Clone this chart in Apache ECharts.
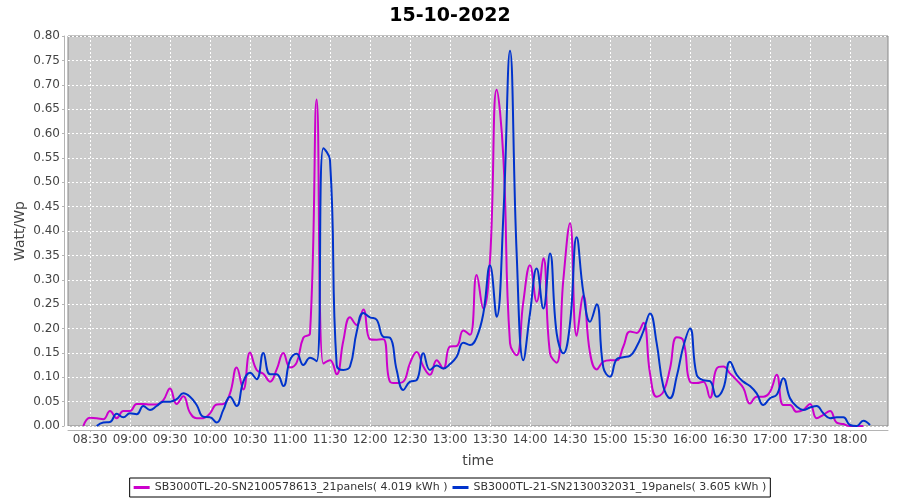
<!DOCTYPE html>
<html>
<head>
<meta charset="utf-8">
<script src="https://cdn.jsdelivr.net/npm/echarts@6/dist/echarts.min.js"></script>
<style>html,body{margin:0;padding:0;background:#fff}#c{width:900px;height:500px}</style>
</head>
<body>
<div id="c"></div>
<script>
const chartTitle = '15-10-2022';
const stepMinutes = 5;
const seriesNames = [
  'SB3000TL-20-SN2100578613_21panels( 4.019 kWh )',
  'SB3000TL-21-SN2130032031_19panels( 3.605 kWh )'
];
const seriesColors = ['#cc00cc', '#0033cc'];
const magentaStart = '08:25';
const blueStart = '08:35';
const magentaValues = [
  0, 0.017, 0.016, 0.014, 0.031, 0.016, 0.031, 0.031, 0.045, 0.045, 0.044, 0.044,
  0.053, 0.077, 0.045, 0.061, 0.027, 0.016, 0.016, 0.026, 0.044, 0.045, 0.067, 0.120,
  0.075, 0.151, 0.115, 0.107, 0.091, 0.116, 0.150, 0.120, 0.130, 0.181, 0.190, 0.670,
  0.128, 0.135, 0.106, 0.175, 0.223, 0.207, 0.239, 0.178, 0.177, 0.178, 0.091, 0.088,
  0.091, 0.129, 0.152, 0.122, 0.105, 0.135, 0.118, 0.163, 0.164, 0.196, 0.187, 0.310,
  0.241, 0.340, 0.690, 0.552, 0.170, 0.145, 0.255, 0.330, 0.255, 0.344, 0.149, 0.130,
  0.300, 0.416, 0.185, 0.267, 0.150, 0.116, 0.132, 0.135, 0.135, 0.163, 0.194, 0.191,
  0.212, 0.108, 0.060, 0.070, 0.118, 0.182, 0.175, 0.091, 0.088, 0.091, 0.058, 0.118,
  0.122, 0.108, 0.094, 0.078, 0.046, 0.060, 0.060, 0.070, 0.105, 0.043, 0.043, 0.029,
  0.033, 0.045, 0.016, 0.023, 0.031, 0.007, 0.004, 0, 0, 0
];
const blueValues = [
  0, 0.007, 0.008, 0.025, 0.018, 0.026, 0.024, 0.041, 0.033, 0.041, 0.050, 0.050,
  0.055, 0.067, 0.060, 0.043, 0.019, 0.018, 0.007, 0.033, 0.060, 0.041, 0.091, 0.109,
  0.096, 0.150, 0.106, 0.106, 0.082, 0.135, 0.148, 0.125, 0.140, 0.133, 0.570, 0.545,
  0.125, 0.115, 0.122, 0.193, 0.232, 0.223, 0.218, 0.183, 0.181, 0.115, 0.074, 0.091,
  0.094, 0.149, 0.115, 0.124, 0.118, 0.127, 0.142, 0.171, 0.166, 0.182, 0.231, 0.330,
  0.224, 0.430, 0.770, 0.354, 0.135, 0.231, 0.323, 0.241, 0.354, 0.190, 0.149, 0.210,
  0.387, 0.274, 0.214, 0.250, 0.120, 0.101, 0.137, 0.141, 0.144, 0.163, 0.194, 0.231,
  0.170, 0.081, 0.057, 0.101, 0.163, 0.200, 0.105, 0.094, 0.092, 0.060, 0.077, 0.132,
  0.105, 0.091, 0.082, 0.067, 0.043, 0.057, 0.064, 0.098, 0.057, 0.040, 0.033, 0.038,
  0.041, 0.026, 0.016, 0.018, 0.018, 0.002, 0, 0.011, 0.002
];
const xTickLabels = ['08:30', '09:00', '09:30', '10:00', '10:30', '11:00', '11:30', '12:00',
  '12:30', '13:00', '13:30', '14:00', '14:30', '15:00', '15:30', '16:00', '16:30', '17:00',
  '17:30', '18:00'];
const xRange = { min: '08:13:30', max: '18:28:30' };
const yTicks = { min: 0, max: 0.8, interval: 0.05 };

function toMin(s) {
  const p = s.split(':').map(Number);
  return p[0] * 60 + p[1] + (p[2] || 0) / 60;
}
function fmt(m) {
  const h = Math.floor(m / 60), mm = Math.round(m - h * 60);
  return String(h).padStart(2, '0') + ':' + String(mm).padStart(2, '0');
}
function toPairs(start, vals) {
  const t0 = toMin(start);
  return vals.map((v, i) => [t0 + i * stepMinutes, v]);
}
const xTickValues = xTickLabels.map(toMin);
const FONT = 'DejaVu Sans';
const gridLine = { color: '#ffffff', type: [2, 2], width: 1 };
const chart = echarts.init(document.getElementById('c'), null, { renderer: 'canvas' });
chart.setOption({
  animation: false,
  backgroundColor: '#ffffff',
  title: {
    text: chartTitle, left: 'center', top: 2,
    textStyle: { fontFamily: FONT, fontSize: 19, fontWeight: 'bold', color: '#000' }
  },
  grid: {
    left: 68, right: 12, top: 36, bottom: 74, show: true,
    backgroundColor: '#cccccc', borderColor: '#888888', borderWidth: 1
  },
  legend: {
    bottom: 3, left: 'center', orient: 'horizontal',
    borderColor: '#000', borderWidth: 1, backgroundColor: '#fff',
    padding: [4, 4], itemGap: 5, itemWidth: 16, itemHeight: 3, icon: 'rect',
    textStyle: { fontFamily: FONT, fontSize: 11, color: '#333' },
    data: seriesNames
  },
  xAxis: {
    type: 'value',
    min: toMin(xRange.min), max: toMin(xRange.max),
    offset: 4,
    name: 'time', nameLocation: 'middle', nameGap: 24, nameMoveOverlap: false,
    nameTextStyle: { fontFamily: FONT, fontSize: 14, color: '#444' },
    axisLine: { show: true, onZero: false, lineStyle: { color: '#b4b4b4', width: 1 } },
    axisTick: { show: true, length: 2, customValues: xTickValues, lineStyle: { color: '#b4b4b4' } },
    axisLabel: {
      customValues: xTickValues,
      formatter: v => fmt(v),
      fontFamily: FONT, fontSize: 12, color: '#444', margin: 4
    },
    splitLine: { show: false }
  },
  yAxis: {
    type: 'value', min: yTicks.min, max: yTicks.max, interval: yTicks.interval,
    offset: 4,
    name: 'Watt/Wp', nameLocation: 'middle', nameGap: 37, nameMoveOverlap: false,
    nameTextStyle: { fontFamily: FONT, fontSize: 14, color: '#444' },
    axisLine: { show: true, lineStyle: { color: '#b4b4b4', width: 1 } },
    axisTick: { show: true, length: 2, lineStyle: { color: '#b4b4b4' } },
    axisLabel: {
      formatter: v => v.toFixed(2),
      fontFamily: FONT, fontSize: 12, color: '#444', margin: 4
    },
    splitLine: { show: true, lineStyle: gridLine }
  },
  series: [
    {
      name: 'grid-x', type: 'line', data: [], z: 1, silent: true,
      markLine: {
        z: 1, silent: true, symbol: ['none', 'none'], label: { show: false },
        lineStyle: gridLine, animation: false,
        emphasis: { disabled: true },
        data: xTickValues.map(v => ({ xAxis: v }))
      }
    },
    {
      name: seriesNames[0], type: 'line', smooth: 0.45, showSymbol: false, z: 3,
      data: toPairs(magentaStart, magentaValues),
      lineStyle: { color: seriesColors[0], width: 2 }, itemStyle: { color: seriesColors[0] }
    },
    {
      name: seriesNames[1], type: 'line', smooth: 0.45, showSymbol: false, z: 3,
      data: toPairs(blueStart, blueValues),
      lineStyle: { color: seriesColors[1], width: 2 }, itemStyle: { color: seriesColors[1] }
    }
  ]
});
</script>
</body>
</html>
